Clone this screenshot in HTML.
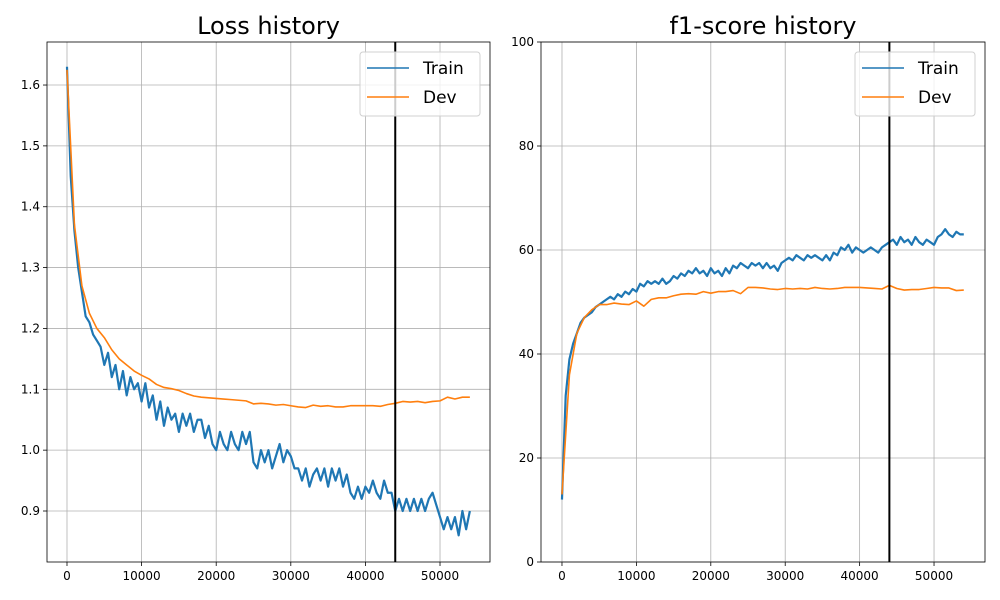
<!DOCTYPE html>
<html><head><meta charset="utf-8"><style>
body{margin:0;background:#fff;}
svg{display:block;font-family:"DejaVu Sans","Liberation Sans",sans-serif;}
</style></head><body>
<svg id="fig" width="1000" height="600"></svg>
<script>
const lossTrain=[1.63,1.45,1.36,1.30,1.26,1.22,1.21,1.19,1.18,1.17,1.14,1.16,1.12,1.14,1.10,1.13,1.09,1.12,1.10,1.11,1.08,1.11,1.07,1.09,1.05,1.08,1.04,1.07,1.05,1.06,1.03,1.06,1.04,1.06,1.03,1.05,1.05,1.02,1.04,1.01,1.00,1.03,1.01,1.00,1.03,1.01,1.00,1.03,1.01,1.03,0.98,0.97,1.00,0.98,1.00,0.97,0.99,1.01,0.98,1.00,0.99,0.97,0.97,0.95,0.97,0.94,0.96,0.97,0.95,0.97,0.94,0.97,0.95,0.97,0.94,0.96,0.93,0.92,0.94,0.92,0.94,0.93,0.95,0.93,0.92,0.95,0.93,0.93,0.90,0.92,0.90,0.92,0.90,0.92,0.90,0.92,0.90,0.92,0.93,0.91,0.89,0.87,0.89,0.87,0.89,0.86,0.90,0.87,0.90];
const lossDev=[1.625,1.37,1.27,1.225,1.20,1.185,1.165,1.15,1.14,1.13,1.123,1.117,1.108,1.103,1.101,1.098,1.093,1.089,1.087,1.086,1.085,1.084,1.083,1.082,1.081,1.076,1.077,1.076,1.074,1.075,1.073,1.071,1.070,1.074,1.072,1.073,1.071,1.071,1.073,1.073,1.073,1.073,1.072,1.075,1.077,1.080,1.079,1.080,1.078,1.080,1.081,1.087,1.084,1.087,1.087];
const f1Train=[12,32,39,42,44,46,47,47.5,48,49,49.5,50,50.5,51,50.5,51.5,51,52,51.5,52.5,52,53.5,53,54,53.5,54,53.5,54.5,53.5,54,55,54.5,55.5,55,56,55.5,56.5,55.5,56,55,56.5,55.5,56,55,56.5,55.5,57,56.5,57.5,57,56.5,57.5,57,57.5,56.5,57.5,56.5,57,56,57.5,58,58.5,58,59,58.5,58,59,58.5,59,58.5,58,59,58,59.5,59,60.5,60,61,59.5,60.5,60,59.5,60,60.5,60,59.5,60.5,61,61.5,62,61,62.5,61.5,62,61,62.5,61.5,61,62,61.5,61,62.5,63,64,63,62.5,63.5,63,63];
const f1Dev=[13,36,44,47,48.5,49.5,49.5,49.8,49.6,49.5,50.2,49.2,50.5,50.8,50.8,51.2,51.5,51.6,51.5,52,51.7,52,52,52.2,51.6,52.8,52.8,52.7,52.5,52.4,52.6,52.5,52.6,52.5,52.8,52.6,52.5,52.6,52.8,52.8,52.8,52.7,52.6,52.5,53.2,52.6,52.3,52.4,52.4,52.6,52.8,52.7,52.7,52.2,52.3];
const xTicks=[0,10000,20000,30000,40000,50000];
const lossTicks=[0.9,1.0,1.1,1.2,1.3,1.4,1.5,1.6];
const f1Ticks=[0,20,40,60,80,100];
const maxStep=54000, bestStep=44000;

const svg=document.getElementById('fig');
const NS='http://www.w3.org/2000/svg';
function el(t,a,p){const e=document.createElementNS(NS,t);for(const k in a)e.setAttribute(k,a[k]);(p||svg).appendChild(e);return e;}

function panel(o){
  const g=el('g',{});
  
  
  const L=o.L,R=o.R,T=42,B=562;
  const sx=v=>L+(v-o.x0)/(o.x1-o.x0)*(R-L);
  const sy=v=>B-(v-o.y0)/(o.y1-o.y0)*(B-T);
  el('rect',{x:L,y:T,width:R-L,height:B-T,fill:'#fff'},g);
  xTicks.forEach(t=>{
    el('line',{x1:sx(t),x2:sx(t),y1:T,y2:B,stroke:'#b0b0b0','stroke-width':0.8},g);
    el('line',{x1:sx(t),x2:sx(t),y1:B,y2:B+4,stroke:'#000','stroke-width':0.8},g);
    const tx=el('text',{x:sx(t),y:B+18,'font-size':12,'text-anchor':'middle'},g);
    tx.textContent=t;
    
    
  });
  o.yt.forEach(t=>{
    el('line',{x1:L,x2:R,y1:sy(t),y2:sy(t),stroke:'#b0b0b0','stroke-width':0.8},g);
    el('line',{x1:L-4,x2:L,y1:sy(t),y2:sy(t),stroke:'#000','stroke-width':0.8},g);
    const tx=el('text',{x:L-7,y:sy(t)+4,'font-size':12,'text-anchor':'end'},g);
    tx.textContent=o.fmt(t);
    
    
  });
  const line=(arr,col,nm,w)=>{
    const n=arr.length;
    const d=arr.map((v,i)=>(i?'L':'M')+sx(i*maxStep/(n-1)).toFixed(2)+','+sy(v).toFixed(2)).join('');
    const p=el('path',{d:d,fill:'none',stroke:col,'stroke-width':w,'stroke-linejoin':'round'},g);
    
    
  };
  line(o.train,'#1f77b4','train-line',2.2);
  line(o.dev,'#ff7f0e','dev-line',1.6);
  const vl=el('line',{x1:sx(bestStep),x2:sx(bestStep),y1:T,y2:B,stroke:'#000','stroke-width':2},g);
  
  
  el('rect',{x:L,y:T,width:R-L,height:B-T,fill:'none',stroke:'#000','stroke-width':0.8},g);
  const ti=el('text',{x:(L+R)/2,y:34,'font-size':24,'text-anchor':'middle'},g);
  ti.textContent=o.title;
  
  
  const lg=el('g',{},g);
  
  
  const lx=R-130;
  el('rect',{x:lx,y:52,width:120,height:64,rx:3,fill:'rgba(255,255,255,0.8)',stroke:'#d0d0d0'},lg);
  [['Train','#1f77b4',68],['Dev','#ff7f0e',97]].forEach(([n,c,y])=>{
    const e=el('g',{},lg);
    
    
    el('line',{x1:lx+7,x2:lx+49,y1:y,y2:y,stroke:c,'stroke-width':1.5},e);
    const t=el('text',{x:lx+63,y:y+6,'font-size':17},e);
    t.textContent=n;
  });
}
panel({name:'loss-chart',L:47,R:490,x0:-2680,x1:56700,y0:0.8162,y1:1.6707,yt:lossTicks,fmt:t=>t.toFixed(1),train:lossTrain,dev:lossDev,title:'Loss history'});
panel({name:'f1-chart',L:541,R:985,x0:-2820,x1:56850,y0:0,y1:100,yt:f1Ticks,fmt:t=>String(t),train:f1Train,dev:f1Dev,title:'f1-score history'});
</script>
</body></html>
